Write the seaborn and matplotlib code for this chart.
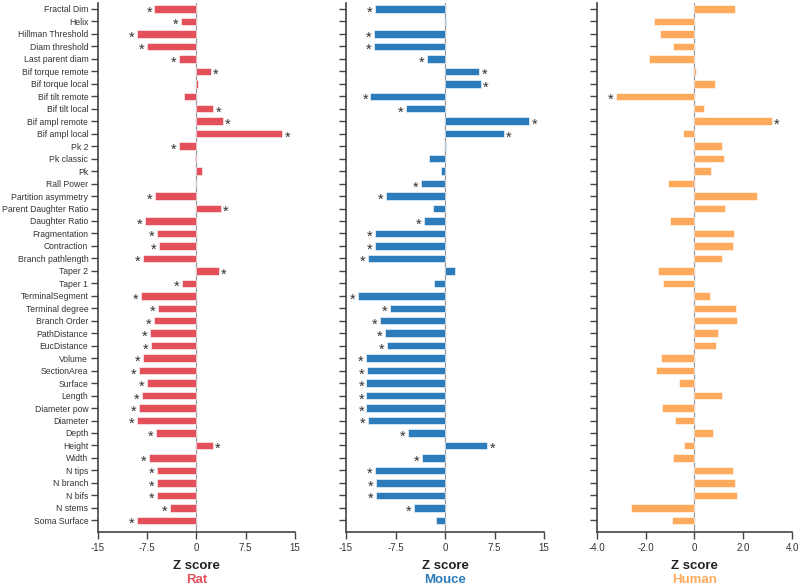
import numpy as np
import pandas as pd
import seaborn as sns
import matplotlib.pyplot as plt

features = ['Fractal Dim', 'Helix', 'Hillman Threshold', 'Diam threshold', 'Last parent diam',
            'Bif torque remote', 'Bif torque local', 'Bif tilt remote', 'Bif tilt local',
            'Bif ampl remote', 'Bif ampl local', 'Pk 2', 'Pk classic', 'Pk', 'Rall Power',
            'Partition asymmetry', 'Parent Daughter Ratio', 'Daughter Ratio', 'Fragmentation',
            'Contraction', 'Branch pathlength', 'Taper 2', 'Taper 1', 'TerminalSegment',
            'Terminal degree', 'Branch Order', 'PathDistance', 'EucDistance', 'Volume',
            'SectionArea', 'Surface', 'Length', 'Diameter pow', 'Diameter', 'Depth', 'Height',
            'Width', 'N tips', 'N branch', 'N bifs', 'N stems', 'Soma Surface']

rat = [-6.4, -2.3, -9.0, -7.5, -2.6, 2.2, 0.3, -1.9, 2.6, 4.0, 13.1, -2.7, -0.2, 0.85,
       -0.1, -6.3, 3.7, -7.9, -6.05, -5.65, -8.2, 3.4, -2.2, -8.5, -5.8, -6.5, -7.1, -6.9,
       -8.15, -8.7, -7.6, -8.3, -8.75, -9.0, -6.15, 2.5, -7.2, -5.95, -5.95, -5.95, -4.1, -9.0]
rat_sig = [1, 1, 1, 1, 1, 1, 0, 0, 1, 1, 1, 1, 0, 0,
           0, 1, 1, 1, 1, 1, 1, 1, 1, 1, 1, 1, 1, 1,
           1, 1, 1, 1, 1, 1, 1, 1, 1, 1, 1, 1, 1, 1]

mouse = [-10.6, 0.1, -10.8, -10.8, -2.7, 5.15, 5.4, -11.3, -5.9, 12.8, 8.9, 0.15, -2.5, -0.55,
         -3.7, -8.9, -1.85, -3.2, -10.6, -10.6, -11.65, 1.5, -1.7, -13.2, -8.4, -9.8, -9.1, -8.85,
         -12.0, -11.8, -11.9, -11.9, -11.9, -11.65, -5.55, 6.4, -3.55, -10.55, -10.4, -10.4, -4.75, -1.35]
mouse_sig = [1, 0, 1, 1, 1, 1, 1, 1, 1, 1, 1, 0, 0, 0,
             1, 1, 0, 1, 1, 1, 1, 0, 0, 1, 1, 1, 1, 1,
             1, 1, 1, 1, 1, 1, 1, 1, 1, 1, 1, 1, 1, 0]

human = [1.65, -1.64, -1.39, -0.86, -1.86, 0.05, 0.85, -3.21, 0.4, 3.16, -0.45, 1.13, 1.2, 0.7,
         -1.08, 2.56, 1.26, -1.02, 1.64, 1.57, 1.12, -1.49, -1.3, 0.63, 1.72, 1.74, 0.96, 0.89,
         -1.37, -1.56, -0.63, 1.12, -1.33, -0.79, 0.78, -0.42, -0.89, 1.6, 1.65, 1.76, -2.6, -0.92]
human_sig = [0, 0, 0, 0, 0, 0, 0, 1, 0, 1, 0, 0, 0, 0,
             0, 0, 0, 0, 0, 0, 0, 0, 0, 0, 0, 0, 0, 0,
             0, 0, 0, 0, 0, 0, 0, 0, 0, 0, 0, 0, 0, 0]

species = ['Rat', 'Mouce', 'Human']
colors = ['#E4505A', '#2C7BBA', '#FDAA5C']
xticks = [[-15, -7.5, 0, 7.5, 15], [-15, -7.5, 0, 7.5, 15], [-4, -2, 0, 2, 4]]
xticklabels = [['-15', '-7.5', '0', '7.5', '15'], ['-15', '-7.5', '0', '7.5', '15'],
               ['-4.0', '-2.0', '0', '2.0', '4.0']]

df = pd.DataFrame({'feature': features, 'Rat': rat, 'Mouce': mouse, 'Human': human})
sigs = {'Rat': rat_sig, 'Mouce': mouse_sig, 'Human': human_sig}

sns.set_theme(style='ticks')
plt.rcParams['font.family'] = ['Liberation Sans', 'DejaVu Sans']

fig = plt.figure(figsize=(8, 5.87), dpi=100)
lefts = [0.1225, 0.4325, 0.746]
widths = [0.246, 0.2475, 0.244]
n = len(features)

for k, sp in enumerate(species):
    ax = fig.add_axes([lefts[k], 0.0937, widths[k], 0.901])
    sns.barplot(data=df, x=sp, y='feature', color=colors[k], saturation=1, width=0.6,
                edgecolor='white', linewidth=0.4, ax=ax)
    lim = xticks[k][-1]
    ax.set_xlim(-lim, lim)
    ax.set_ylim(n - 1 + 0.94, -0.47)
    ax.axvline(0, color='#999999', lw=0.9, zorder=0)
    off = lim * 0.025
    for i, (v, s) in enumerate(zip(df[sp], sigs[sp])):
        if s:
            ax.text(v + (off if v >= 0 else -off), i + 0.3, '*', ha='left' if v >= 0 else 'right',
                    va='center', fontsize=10.5, color='#333333')
    ax.set_xticks(xticks[k])
    ax.set_xticklabels(xticklabels[k], family=['Liberation Sans Narrow', 'Liberation Sans'], fontsize=7)
    if k == 0:
        ax.tick_params(axis='y', labelsize=6.2, length=5, width=1, color='#444444', pad=2,
                       labelcolor='#333333')
    else:
        ax.set_yticklabels([])
        ax.tick_params(axis='y', length=5, width=1, color='#444444')
    ax.tick_params(axis='x', length=5, width=1, color='#444444', pad=3, labelcolor='#333333')
    ax.set_ylabel('')
    ax.set_xlabel('Z score', fontsize=9.5, fontweight='bold', labelpad=5, color='#222222')
    for side in ['top', 'right']:
        ax.spines[side].set_visible(False)
    for side in ['left', 'bottom']:
        ax.spines[side].set_color('#444444')
        ax.spines[side].set_linewidth(1.2)
    ax.text(0.5, -0.0915, sp, transform=ax.transAxes, ha='center', va='center',
            fontsize=9.5, fontweight='bold', color=colors[k])

fig.savefig('out.png', dpi=100)
